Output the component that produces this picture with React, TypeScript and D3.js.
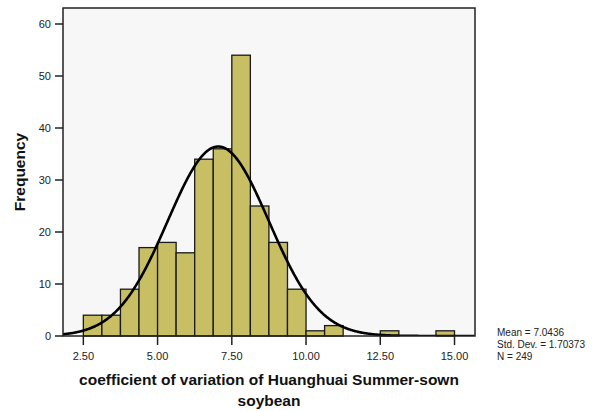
import React from 'react';
import * as d3 from 'd3';

// histogram bins (lower edge) and frequencies, bin width 0.625
const binStarts = [2.5, 3.125, 3.75, 4.375, 5.0, 5.625, 6.25, 6.875, 7.5, 8.125, 8.75, 9.375, 10.0, 10.625, 11.25, 11.875, 12.5, 13.125, 13.75, 14.375];
const counts = [4, 4, 9, 17, 18, 16, 34, 36, 54, 25, 18, 9, 1, 2, 0, 0, 1, 0, 0, 1];
const binWidth = 0.625;
const xTicks = [2.5, 5, 7.5, 10, 12.5, 15];
const yTicks = [0, 10, 20, 30, 40, 50, 60];
const mean = 7.0436;
const sd = 1.70373;
const n = 249;

const W = 596;
const H = 411;
const m = { left: 63, right: 475, top: 8, bottom: 336 };

export default function App() {
  const x = d3.scaleLinear().domain([1.815, 15.69]).range([m.left, m.right]);
  const y = d3.scaleLinear().domain([0, 60]).range([m.bottom, 24]);

  const pdf = (v: number) => Math.exp(-0.5 * ((v - mean) / sd) ** 2) / (sd * Math.sqrt(2 * Math.PI));
  const curvePts = d3.range(1.815, 15.69, 0.02).map(v => [v, n * binWidth * pdf(v)] as [number, number]);
  const line = d3.line<[number, number]>().x(d => x(d[0])).y(d => y(d[1]));

  const font = 'Arial, "Liberation Sans", sans-serif';

  return (
    <svg width={W} height={H} style={{ position: 'absolute', left: 0, top: 0, background: '#fff' }} fontFamily={font}>
      <defs>
        <clipPath id="plot">
          <rect x={m.left} y={m.top} width={m.right - m.left} height={m.bottom - m.top} />
        </clipPath>
      </defs>
      <rect x={m.left} y={m.top} width={m.right - m.left} height={m.bottom - m.top} fill="#f7f7f7" />
      {binStarts.map((b, i) => counts[i] > 0 && (
        <rect key={i} x={x(b)} y={y(counts[i])} width={x(b + binWidth) - x(b)} height={y(0) - y(counts[i])}
          fill="#c8be64" stroke="#1a1a1a" strokeWidth={1.3} />
      ))}
      <path d={line(curvePts) || ''} fill="none" stroke="#000" strokeWidth={2.6} clipPath="url(#plot)" />
      <rect x={m.left} y={m.top} width={m.right - m.left} height={m.bottom - m.top} fill="none" stroke="#222" strokeWidth={1.5} />
      {yTicks.map(t => (
        <g key={t}>
          <line x1={m.left - 8} x2={m.left} y1={y(t)} y2={y(t)} stroke="#222" strokeWidth={1.5} />
          <text x={m.left - 12} y={y(t)} dy="0.35em" textAnchor="end" fontSize={11} fill="#222">{t}</text>
        </g>
      ))}
      {xTicks.map(t => (
        <g key={t}>
          <line x1={x(t)} x2={x(t)} y1={m.bottom} y2={m.bottom + 9} stroke="#222" strokeWidth={1.5} />
          <text x={x(t)} y={356} dy="0.35em" textAnchor="middle" fontSize={11} fill="#222">{d3.format('.2f')(t)}</text>
        </g>
      ))}
      <text transform={`translate(20,${(m.top + m.bottom) / 2}) rotate(-90)`} textAnchor="middle" dy="0.35em" fontSize={15.5} fontWeight="bold" fill="#111">Frequency</text>
      <text x={(m.left + m.right) / 2} y={380} dy="0.35em" textAnchor="middle" fontSize={15.5} fontWeight="bold" fill="#111">coefficient of variation of Huanghuai Summer-sown</text>
      <text x={(m.left + m.right) / 2} y={401} dy="0.35em" textAnchor="middle" fontSize={15.5} fontWeight="bold" fill="#111">soybean</text>
      <g fontSize={10} fill="#222">
        <text x={497} y={332} dy="0.35em">Mean = {mean}</text>
        <text x={497} y={344} dy="0.35em">Std. Dev. = {sd}</text>
        <text x={497} y={356} dy="0.35em">N = {n}</text>
      </g>
    </svg>
  );
}
